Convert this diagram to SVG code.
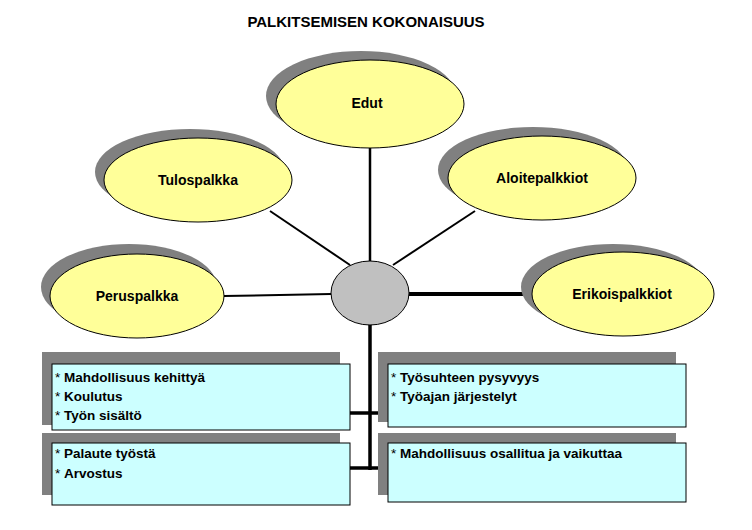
<svg xmlns="http://www.w3.org/2000/svg" width="752" height="530" viewBox="0 0 752 530">
<style>
text{font-family:"Liberation Sans",Arial,sans-serif;fill:#000}
.lbl{font-size:14px;font-weight:bold;text-anchor:middle}
.t{font-size:13.5px;font-weight:bold}
.s{font-weight:normal}
.el{fill:#ffff99;stroke:#000;stroke-width:1}
.sh{fill:#808080}
.bx{fill:#ccffff;stroke:#000;stroke-width:1}
.ln{stroke:#000;fill:none}
</style>
<rect width="752" height="530" fill="#fff"/>
<text x="366" y="27" style="font-size:15px;font-weight:bold;text-anchor:middle">PALKITSEMISEN KOKONAISUUS</text>
<g id="connectors">
<line class="ln" stroke-width="2.5" x1="370" y1="148" x2="370" y2="262"/>
<line class="ln" stroke-width="2" x1="270" y1="211" x2="350" y2="265"/>
<line class="ln" stroke-width="2" x1="475" y1="211" x2="393" y2="265"/>
<line class="ln" stroke-width="2" x1="224" y1="296" x2="331" y2="294"/>
<line class="ln" stroke-width="4" x1="409" y1="294" x2="532" y2="294"/>
<line class="ln" stroke-width="3.5" x1="370" y1="324" x2="370" y2="470"/>
<line class="ln" stroke-width="3.5" x1="350" y1="413" x2="388" y2="413"/>
<line class="ln" stroke-width="3.5" x1="350" y1="468" x2="388" y2="468"/>
</g>
<g id="edut"><ellipse class="sh" cx="361" cy="96" rx="95" ry="45"/><ellipse class="el" cx="370" cy="104" rx="94" ry="44"/><text class="lbl" x="367" y="108">Edut</text></g>
<g id="tulospalkka"><ellipse class="sh" cx="190" cy="172" rx="95" ry="43"/><ellipse class="el" cx="198" cy="180" rx="94" ry="42"/><text class="lbl" x="198" y="185">Tulospalkka</text></g>
<g id="aloitepalkkiot"><ellipse class="sh" cx="533" cy="170" rx="95" ry="43"/><ellipse class="el" cx="542" cy="178" rx="94" ry="42"/><text class="lbl" x="542" y="183">Aloitepalkkiot</text></g>
<g id="peruspalkka"><ellipse class="sh" cx="129" cy="287" rx="88" ry="43"/><ellipse class="el" cx="137" cy="296" rx="87" ry="42"/><text class="lbl" x="137" y="301">Peruspalkka</text></g>
<g id="erikoispalkkiot"><ellipse class="sh" cx="613" cy="287" rx="92" ry="43"/><ellipse class="el" cx="623" cy="294" rx="91" ry="42"/><text class="lbl" x="622" y="299">Erikoispalkkiot</text></g>
<g id="center"><ellipse cx="370" cy="293" rx="39" ry="32" fill="#c0c0c0" stroke="#000" stroke-width="1"/></g>
<g id="box1"><rect class="sh" x="42" y="352" width="298" height="73"/><rect class="bx" x="52" y="364" width="298" height="66"/>
<text class="t" x="55" y="382"><tspan class="s">* </tspan>Mahdollisuus kehittyä</text>
<text class="t" x="55" y="401"><tspan class="s">* </tspan>Koulutus</text>
<text class="t" x="55" y="420"><tspan class="s">* </tspan>Työn sisältö</text></g>
<g id="box2"><rect class="sh" x="42" y="433" width="298" height="62"/><rect class="bx" x="52" y="443" width="298" height="62"/>
<text class="t" x="55" y="458"><tspan class="s">* </tspan>Palaute työstä</text>
<text class="t" x="55" y="478"><tspan class="s">* </tspan>Arvostus</text></g>
<g id="box3"><rect class="sh" x="378" y="352" width="298" height="70"/><rect class="bx" x="388" y="364" width="298" height="63"/>
<text class="t" x="391" y="382"><tspan class="s">* </tspan>Työsuhteen pysyvyys</text>
<text class="t" x="391" y="401"><tspan class="s">* </tspan>Työajan järjestelyt</text></g>
<g id="box4"><rect class="sh" x="378" y="433" width="298" height="62"/><rect class="bx" x="388" y="443" width="298" height="59"/>
<text class="t" x="391" y="458"><tspan class="s">* </tspan>Mahdollisuus osallitua ja vaikuttaa</text></g>
</svg>
